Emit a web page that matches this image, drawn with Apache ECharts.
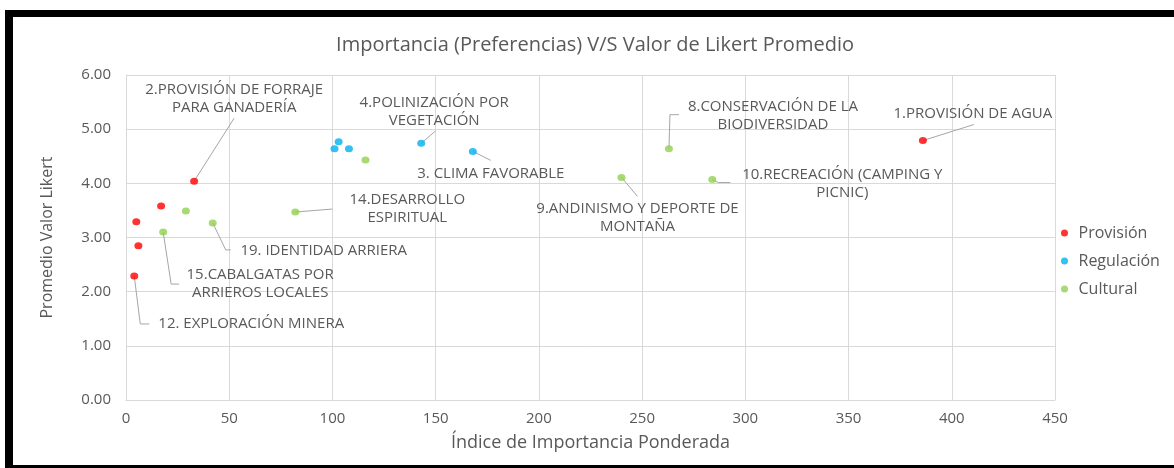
<!DOCTYPE html>
<html>
<head>
<meta charset="utf-8">
<script src="https://cdn.jsdelivr.net/npm/echarts@6/dist/echarts.min.js"></script>
<style>
  html, body { margin: 0; padding: 0; background: #ffffff; }
  #chart { position: absolute; left: 0; top: 0; width: 1174px; height: 468px; }
  #frame { position: absolute; left: 5px; top: 10px; width: 1200px; height: 463px;
           box-sizing: border-box; border-top: 7px solid #000; border-left: 8px solid #000;
           border-bottom: 8px solid #000; pointer-events: none; }
</style>
</head>
<body>
<div id="chart"></div>
<div id="frame"></div>
<script>
// ---- data ----
const seriesNames = ['Provisión', 'Regulación', 'Cultural'];
const provX = [386, 33, 17, 5, 6, 4];
const provY = [4.79, 4.04, 3.58, 3.29, 2.85, 2.29];
const provLabels = ['1.PROVISIÓN DE AGUA', '2.PROVISIÓN DE FORRAJE\nPARA GANADERÍA', '', '', '', '12. EXPLORACIÓN MINERA'];

const regX = [103, 101, 108, 143, 168];
const regY = [4.77, 4.64, 4.64, 4.74, 4.59];
const regLabels = ['', '', '', '4.POLINIZACIÓN POR\nVEGETACIÓN', '3. CLIMA FAVORABLE'];

const culX = [116, 263, 240, 284, 82, 29, 42, 18];
const culY = [4.43, 4.64, 4.11, 4.07, 3.47, 3.49, 3.27, 3.10];
const culLabels = ['', '8.CONSERVACIÓN DE LA\nBIODIVERSIDAD', '9.ANDINISMO Y DEPORTE DE\nMONTAÑA',
  '10.RECREACIÓN (CAMPING Y\nPICNIC)', '14.DESARROLLO\nESPIRITUAL', '', '19. IDENTIDAD ARRIERA',
  '15.CABALGATAS POR\nARRIEROS LOCALES'];

const xTicks = [0, 50, 100, 150, 200, 250, 300, 350, 400, 450];
const yTicks = [0, 1, 2, 3, 4, 5, 6];

// ---- styling / label placement (pixel offsets relative to the point) ----
const colors = ['#ff0000', '#00b0f0', '#92d050'];
const textColor = '#595959';
const fontFamily = '"Open Sans", sans-serif';
const labelPlacement = {
  '1':  { dx: 50,  dy: -27, line: [[0, 0], [51, -16]] },
  '2':  { dx: 40,  dy: -82, line: [[0, 0], [40, -63]] },
  '3':  { dx: 18,  dy: 22,  line: [[0, 0], [18, 9]] },
  '4':  { dx: 13,  dy: -32, line: [[0, 0], [14, -12]] },
  '8':  { dx: 104, dy: -33, line: [[0, 0], [1, -34], [10, -34]] },
  '9':  { dx: 16,  dy: 40,  line: [[0, 0], [16, 19]] },
  '10': { dx: 130, dy: 4,   line: [[0, 0], [6, 3], [18, 3]] },
  '14': { dx: 112, dy: -3,  line: [[0, 0], [37, -3]] },
  '19': { dx: 111, dy: 28,  line: [[0, 0], [13, 27], [18, 27]] },
  '15': { dx: 97,  dy: 52,  line: [[0, 0], [8, 52], [16, 52]] },
  '12': { dx: 117, dy: 48,  line: [[0, 0], [6, 48], [15, 48]] }
};

const groups = [[provX, provY, provLabels], [regX, regY, regLabels], [culX, culY, culLabels]];
const annotations = [];
groups.forEach(function (g) {
  g[0].forEach(function (x, i) {
    if (g[2][i]) annotations.push({ value: [x, g[1][i]], text: g[2][i], key: g[2][i].split('.')[0] });
  });
});

const scatterSeries = groups.map(function (g, s) {
  return {
    name: seriesNames[s],
    type: 'scatter',
    z: 3,
    symbol: 'circle',
    symbolSize: [8, 7],
    itemStyle: { color: colors[s] },
    data: g[0].map(function (x, i) { return [x, g[1][i]]; })
  };
});

const chart = echarts.init(document.getElementById('chart'), null, { renderer: 'canvas' });
chart.setOption({
  animation: false,
  backgroundColor: '#ffffff',
  color: colors,
  title: {
    text: 'Importancia (Preferencias) V/S Valor de Likert Promedio',
    left: 590, top: 30, textAlign: 'center',
    textStyle: { color: textColor, fontSize: 20, fontWeight: 'normal', fontFamily: fontFamily }
  },
  legend: {
    orient: 'vertical',
    left: 1056, top: 220,
    itemWidth: 18, itemHeight: 7, itemGap: 12,
    icon: 'circle',
    textStyle: { color: textColor, fontSize: 16, fontFamily: fontFamily },
    data: seriesNames
  },
  grid: { left: 126, right: 119, top: 75, bottom: 68, containLabel: false },
  xAxis: {
    type: 'value',
    min: xTicks[0], max: xTicks[xTicks.length - 1], interval: 50,
    name: 'Índice de Importancia Ponderada',
    nameLocation: 'middle', nameGap: 34,
    nameTextStyle: { color: textColor, fontSize: 18, fontFamily: fontFamily },
    axisLine: { show: true, lineStyle: { color: '#d9d9d9', width: 1 } },
    axisTick: { show: false },
    axisLabel: { color: textColor, fontSize: 15, fontFamily: fontFamily, margin: 11 },
    splitLine: { show: true, lineStyle: { color: '#d9d9d9', width: 1 } }
  },
  yAxis: {
    type: 'value',
    min: yTicks[0], max: yTicks[yTicks.length - 1], interval: 1,
    name: 'Promedio Valor Likert',
    nameLocation: 'middle', nameGap: 71,
    nameTextStyle: { color: textColor, fontSize: 16, fontFamily: fontFamily },
    axisLine: { show: true, lineStyle: { color: '#d9d9d9', width: 1 } },
    axisTick: { show: false },
    axisLabel: { color: textColor, fontSize: 15, fontFamily: fontFamily, margin: 15,
      formatter: function (v) { return v.toFixed(2); } },
    splitLine: { show: true, lineStyle: { color: '#d9d9d9', width: 1 } }
  },
  series: scatterSeries.concat([{
    type: 'custom',
    z: 2,
    silent: true,
    data: annotations.map(function (a) { return a.value; }),
    renderItem: function (params, api) {
      const a = annotations[params.dataIndex];
      const p = api.coord([api.value(0), api.value(1)]);
      const L = labelPlacement[a.key];
      return {
        type: 'group',
        children: [
          { type: 'polyline',
            shape: { points: L.line.map(function (q) { return [p[0] + q[0], p[1] + q[1]]; }) },
            style: { stroke: '#a6a6a6', lineWidth: 1, fill: null } },
          { type: 'text', x: p[0] + L.dx, y: p[1] + L.dy,
            style: { text: a.text, fill: textColor, fontSize: 15, fontFamily: fontFamily,
                     align: 'center', verticalAlign: 'middle', lineHeight: 18 } }
        ]
      };
    }
  }])
});
</script>
</body>
</html>
